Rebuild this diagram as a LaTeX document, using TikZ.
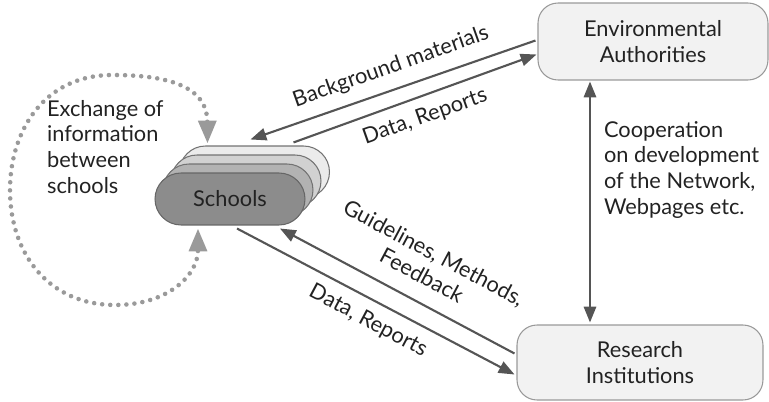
\documentclass[tikz,border=0pt]{standalone}
\usepackage{fontspec}
\setmainfont{Lato}
\usetikzlibrary{arrows.meta,calc}
\definecolor{arr}{HTML}{555555}
\definecolor{dotc}{HTML}{9A9A9A}
\definecolor{txt}{HTML}{222222}
\begin{document}
\begin{tikzpicture}[x=0.02cm,y=-0.02cm,
  font=\fontsize{12.4pt}{14.6pt}\selectfont, text=txt,
  bigbox/.style={draw=black!40, fill=black!5, rounded corners=0.4cm, line width=0.6pt, align=center, inner sep=0pt},
  layer/.style={draw=black!55, rounded corners=0.52cm, minimum width=3cm, minimum height=1.04cm, line width=0.6pt, inner sep=0pt},
  flow/.style={draw=arr, line width=1.2pt, -{Triangle[length=9pt,width=7pt]}},
  loopline/.style={draw=dotc, line width=2.6pt, line cap=round, dash pattern=on 0pt off 4.6pt,
     {Triangle[length=13pt,width=10pt,fill=dotc]}-{Triangle[length=13pt,width=10pt,fill=dotc]}},
  lbl/.style={inner sep=1pt}]
\useasboundingbox (0,0) rectangle (769,402);
% boxes
\node[bigbox, minimum width=4.6cm, minimum height=1.54cm] (env) at (653,41.5) {Environmental\\Authorities};
\node[bigbox, minimum width=4.92cm, minimum height=1.5cm] (res) at (640,362.5) {Research\\Institutions};
% schools stack
\node[layer, fill=black!8] (s1) at (254.5,172) {};
\node[layer, fill=black!18] (s2) at (246,181) {};
\node[layer, fill=black!30] (s3) at (238,190) {};
\node[layer, fill=black!45, draw=black!60] (school) at (230,199) {Schools};
% connectors
\draw[flow] ($(env.west)+(-2,-1)$) -- ($(s1.north)+(-4,-6)$);
\draw[flow] ($(s1.north)+(39,-3)$) -- ($(env.west)+(-1,13)$);
\draw[flow] ($(school.south)+(7,3)$) -- ($(res.west)+(-2,12)$);
\draw[flow] ($(res.west)+(-2,-9)$) -- ($(school.south)+(50,3)$);
\draw[draw=arr, line width=1.2pt, {Triangle[length=9pt,width=7pt]}-{Triangle[length=9pt,width=7pt]}]
  ($(env.south)+(-63,1)$) -- ($(res.north)+(-50,-2)$);
% dotted loop
\coordinate (lt) at ($(s1.north)+(-47,-2)$);
\coordinate (lb) at ($(school.south)+(-32,3)$);
\draw[loopline] (lt) .. controls (207,85) and (165,75) .. (112,75)
  .. controls (45,75) and (10,130) .. (10,190)
  .. controls (10,255) and (50,305) .. (115,305)
  .. controls (168,305) and (198,275) .. (lb);
% labels
\node[lbl, align=left, anchor=north west] (exch) at (45,98) {Exchange of\\information\\between\\schools};
\node[lbl, align=left, anchor=north west] (coop) at (602,119) {Cooperation\\on development\\of the Network,\\Webpages etc.};
\node[lbl, rotate=19.5] (bg) at (391,67) {Background materials};
\node[lbl, rotate=19.5] (dr1) at (425,117) {Data, Reports};
\node[lbl, rotate=-28, align=center] (gm) at (428,264) {Guidelines, Methods,\\Feedback};
\node[lbl, rotate=-28] (dr2) at (368,321) {Data, Reports};
\end{tikzpicture}
\end{document}
